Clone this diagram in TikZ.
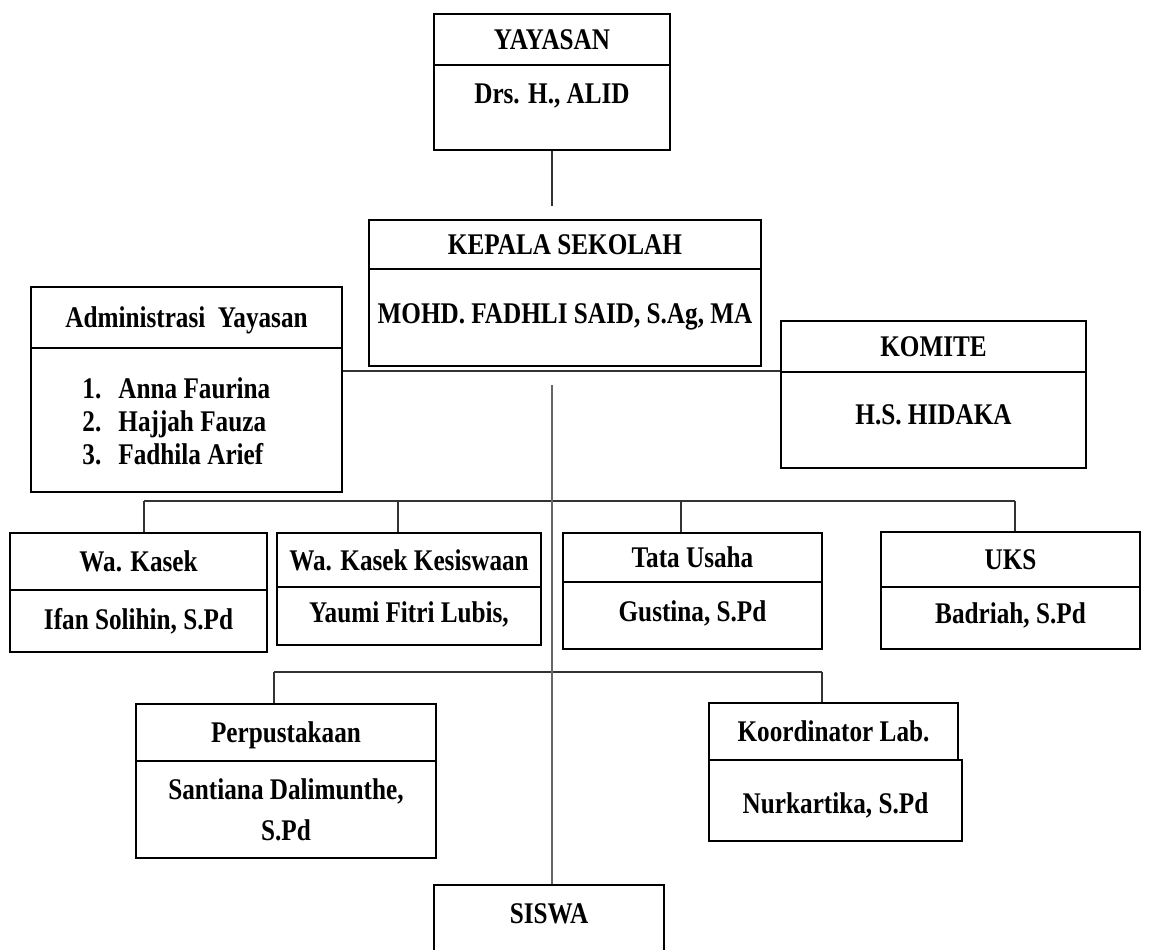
\documentclass[tikz,border=0pt]{standalone}
\usepackage{fontspec}
\setmainfont{Liberation Serif}[FakeStretch=0.84]

\tikzset{
  cell/.style={draw, line width=1pt, inner sep=0pt},
  txt/.style={font=\fontsize{15}{18}\selectfont\bfseries, inner sep=0pt, text height=10pt, text depth=0pt},
  link/.style={line width=1pt, black!80},
  spine/.style={line width=1.2pt, black!60},
}

\begin{document}
\begin{tikzpicture}[x=0.5pt, y=-0.5pt]
        \useasboundingbox (0,0) rectangle (1149,949);
        \clip (0,0) rectangle (1149,949);
        % top
        \node[cell, txt, minimum width=118pt, minimum height=25.5pt] (yayasanH) at (552,39.5) {YAYASAN};
        \node[cell, minimum width=118pt, minimum height=42.5pt] (yayasanB) at (552,107.5) {};
        \node[txt] (yayasanN) at (552,93) {Drs. H., ALID};
        \node[cell, txt, minimum width=196pt, minimum height=24.5pt] (kepalaH) at (565,244.5) {KEPALA SEKOLAH};
        \node[cell, minimum width=196pt, minimum height=48.5pt] (kepalaB) at (565,317.5) {};
        \node[txt] (kepalaN) at (565,313) {MOHD. FADHLI SAID, S.Ag, MA};
        % side boxes
        \node[cell, txt, minimum width=155.5pt, minimum height=30.5pt] (adminH) at (186.5,317.5) {Administrasi\ \ Yayasan};
        \node[cell, minimum width=155.5pt, minimum height=72pt] (adminB) at (186.5,420) {};
        \node[txt, anchor=west] (adm1) at (82,388) {1.};
        \node[txt, anchor=west] (adm2) at (82,421) {2.};
        \node[txt, anchor=west] (adm3) at (82,454) {3.};
        \node[txt, anchor=west] (admN1) at (118,388) {Anna Faurina};
        \node[txt, anchor=west] (admN2) at (118,421) {Hajjah Fauza};
        \node[txt, anchor=west] (admN3) at (118,454) {Fadhila Arief};
        \node[cell, txt, minimum width=152.5pt, minimum height=25.5pt] (komiteH) at (933.5,346.5) {KOMITE};
        \node[cell, minimum width=152.5pt, minimum height=48pt] (komiteB) at (933.5,420) {};
        \node[txt] (komiteN) at (933.5,414) {H.S. HIDAKA};
        % row 1
        \node[cell, txt, minimum width=128.5pt, minimum height=28.5pt] (wakasekH) at (138.5,561.5) {Wa. Kasek};
        \node[cell, minimum width=128.5pt, minimum height=31pt] (wakasekB) at (138.5,621) {};
        \node[txt] (wakasekN) at (138.5,619) {Ifan Solihin, S.Pd};
        \node[cell, txt, minimum width=132pt, minimum height=27pt] (kesiswaanH) at (409,560) {Wa. Kasek Kesiswaan};
        \node[cell, minimum width=132pt, minimum height=29pt] (kesiswaanB) at (409,616) {};
        \node[txt] (kesiswaanN) at (409,612) {Yaumi Fitri Lubis,};
        \node[cell, txt, minimum width=129.5pt, minimum height=24.5pt] (tuH) at (692.5,557.5) {Tata Usaha};
        \node[cell, minimum width=129.5pt, minimum height=33.5pt] (tuB) at (692.5,615.5) {};
        \node[txt] (tuN) at (692.5,611) {Gustina, S.Pd};
        \node[cell, txt, minimum width=129.5pt, minimum height=27.5pt] (uksH) at (1010.5,559.5) {UKS};
        \node[cell, minimum width=129.5pt, minimum height=31pt] (uksB) at (1010.5,618) {};
        \node[txt] (uksN) at (1010.5,613) {Badriah, S.Pd};
        % row 2
        \node[cell, txt, minimum width=150pt, minimum height=28.5pt] (perpusH) at (286,732.5) {Perpustakaan};
        \node[cell, minimum width=150pt, minimum height=48.5pt] (perpusB) at (286,809.5) {};
        \node[txt] (perpusN1) at (286,789) {Santiana Dalimunthe,};
        \node[txt] (perpusN2) at (286,830) {S.Pd};
        \node[cell, txt, minimum width=124.5pt, minimum height=28.5pt] (labH) at (833.5,731.5) {Koordinator Lab.};
        \node[cell, minimum width=126.5pt, minimum height=40.5pt] (labB) at (835.5,800.5) {};
        \node[txt] (labN) at (835.5,803) {Nurkartika, S.Pd};
        % bottom
        \node[cell, minimum width=115pt, minimum height=52.5pt] (siswa) at (549,937.5) {};
        \node[txt] (siswaN) at (549,913) {SISWA};
        % lines
        \coordinate (hub) at (552,385);
        \coordinate (r1a) at (144,501);
        \coordinate (r1b) at (398,501);
        \coordinate (r1c) at (681,501);
        \coordinate (r1d) at (1015,501);
        \coordinate (r2a) at (274,672);
        \coordinate (r2b) at (822,672);
        \draw[link, shorten >=6.5pt] (yayasanB.south) -- (yayasanB.south |- kepalaH.north);
        \draw[link] (adminB.east |- komiteB.north west) -- (komiteB.north west);
        \draw[link] (r1a) -- (r1d);
        \draw[link] (r1a) -- (r1a |- wakasekH.north);
        \draw[link] (r1b) -- (r1b |- kesiswaanH.north);
        \draw[link] (r1c) -- (r1c |- tuH.north);
        \draw[link] (r1d) -- (r1d |- uksH.north);
        \draw[link] (r2a) -- (r2b);
        \draw[link] (r2a) -- (r2a |- perpusH.north);
        \draw[link] (r2b) -- (r2b |- labH.north);
        \draw[spine] (hub) -- (hub |- siswa.north);
\end{tikzpicture}
\end{document}
